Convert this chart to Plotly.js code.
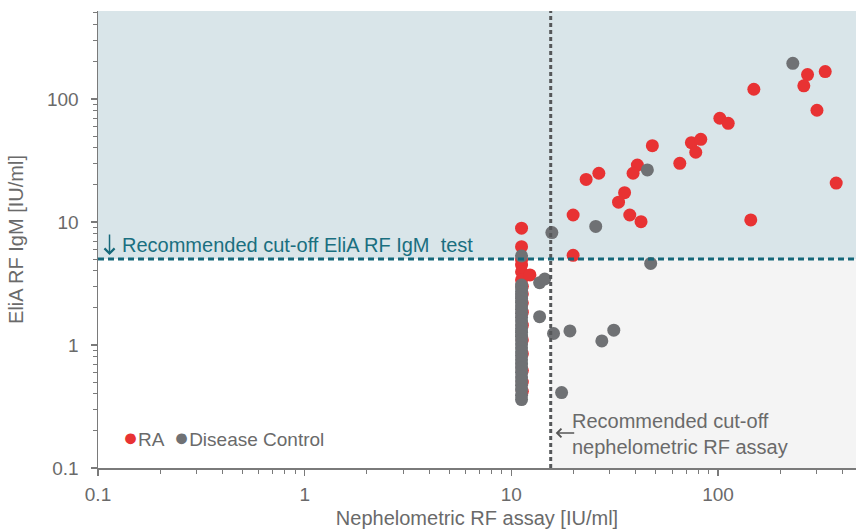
<!DOCTYPE html>
<html>
<head>
<meta charset="utf-8">
<script src="https://cdn.plot.ly/plotly-3.0.1.min.js"></script>
<style>html,body{margin:0;padding:0;background:#fff;}#chart{width:856px;height:529px;}</style>
</head>
<body>
<div id="chart"></div>
<script>
// ---- data (IU/ml) ----
const raX = [271, 330, 260, 301, 373, 149, 144, 102, 112, 74.3, 82.5, 78, 65.3, 48.1, 40.7, 38.8, 35.3, 33, 37.4, 42.4, 26.5, 23, 19.9, 19.9,
             11.2, 11.2, 11.2, 11.2, 11.2, 11.2, 12.3,
             11.3, 11.3, 11.3, 11.3, 11.3, 11.3, 11.3, 11.3, 11.3, 11.3];
const raY = [158, 167, 128, 81, 20.7, 120, 10.4, 69.7, 63.4, 44.1, 47, 36.9, 30, 41.7, 29, 24.9, 17.3, 14.5, 11.4, 10.05, 24.9, 22.2, 11.4, 5.36,
             8.9, 6.3, 4.9, 4.47, 3.94, 3.38, 3.71,
             3.0, 2.6, 2.2, 1.85, 1.45, 1.1, 0.85, 0.62, 0.5, 0.42];
const dcX = [230, 45.5, 25.6, 15.7, 47.2, 13.7, 14.5, 13.7, 16.0, 19.2, 31.3, 27.4, 17.5, 11.2,
             11.2, 11.2, 11.2, 11.2, 11.2, 11.2, 11.2, 11.2, 11.2, 11.2, 11.2, 11.2, 11.2, 11.2, 11.2,
             11.2, 11.2, 11.2, 11.2, 11.2, 11.2, 11.2, 11.2, 11.2, 11.2, 11.2, 11.2, 11.2, 11.2, 11.2];
const dcY = [195, 26.5, 9.2, 8.2, 4.6, 3.21, 3.44, 1.70, 1.24, 1.30, 1.32, 1.08, 0.41, 5.3,
             3.07, 2.9, 2.72, 2.55, 2.4, 2.23, 2.08, 1.95, 1.81, 1.68, 1.57, 1.46, 1.36, 1.27, 1.18,
             1.1, 1.02, 0.95, 0.88, 0.82, 0.76, 0.7, 0.65, 0.6, 0.55, 0.51, 0.47, 0.43, 0.39, 0.36];
const cutoffElia = 5;        // IU/ml
const cutoffNeph = 15.5;     // IU/ml
const xTickVals = [0.1, 1, 10, 100];
const xTickText = ['0.1', '1', '10', '100'];
const yTickVals = [0.1, 1, 10, 100];
const yTickText = ['0.1', '1', '10', '100'];
const minorTickVals = [0.2, 0.3, 0.4, 0.5, 0.6, 0.7, 0.8, 0.9,
                       2, 3, 4, 5, 6, 7, 8, 9,
                       20, 30, 40, 50, 60, 70, 80, 90,
                       200, 300, 400, 500];
const xRange = [0.1, 465];
const yRange = [0.1, 519];

const red = '#e83233', grey = '#6f7174', teal = '#16687a', txt = '#6a6a6a';
const FONT = 'Liberation Sans, Arial, sans-serif';
const L = Math.log10;

const traces = [
  {x: raX, y: raY, type: 'scatter', mode: 'markers', name: 'RA', showlegend: false,
   marker: {color: red, size: 13, line: {width: 0}}},
  {x: dcX, y: dcY, type: 'scatter', mode: 'markers', name: 'Disease Control', showlegend: false,
   marker: {color: grey, size: 13, line: {width: 0}}}
];

const axisCommon = {
  type: 'log', showgrid: false, zeroline: false, showline: true, linecolor: '#7a7a7a', linewidth: 1.5,
  ticks: 'outside', ticklen: 6, tickwidth: 1.2, tickcolor: '#7a7a7a',
  tickfont: {family: FONT, size: 19, color: txt},
  minor: {ticks: 'outside', ticklen: 4, tickwidth: 1, tickcolor: '#7a7a7a', tickvals: minorTickVals, showgrid: false}
};

const layout = {
  width: 856, height: 529,
  margin: {l: 98, r: 0, t: 11, b: 61},
  paper_bgcolor: '#fff', plot_bgcolor: '#fff',
  font: {family: FONT, color: txt},
  showlegend: false,
  xaxis: Object.assign({}, axisCommon, {
    range: [L(xRange[0]), L(xRange[1])], tickvals: xTickVals, ticktext: xTickText, ticklabelstandoff: 3,
    title: {text: 'Nephelometric RF assay [IU/ml]', font: {family: FONT, size: 20, color: txt}, standoff: 8}
  }),
  yaxis: Object.assign({}, axisCommon, {
    range: [L(yRange[0]), L(yRange[1])], tickvals: yTickVals, ticktext: yTickText, ticklabelstandoff: 8,
    title: {text: 'EliA RF IgM [IU/ml]', font: {family: FONT, size: 20, color: txt}, standoff: 18}
  }),
  shapes: [
    {type: 'rect', layer: 'below', xref: 'paper', yref: 'y', x0: 0, x1: 1, y0: cutoffElia, y1: yRange[1],
     fillcolor: '#d9e5e9', line: {width: 0}},
    {type: 'rect', layer: 'below', xref: 'x', yref: 'y', x0: cutoffNeph, x1: xRange[1], y0: yRange[0], y1: cutoffElia,
     fillcolor: '#f4f4f4', line: {width: 0}},
    {type: 'line', layer: 'above', xref: 'x', yref: 'paper', x0: cutoffNeph, x1: cutoffNeph, y0: 0, y1: 1,
     line: {color: '#555759', width: 3, dash: '4px,3px'}},
    {type: 'line', layer: 'above', xref: 'paper', yref: 'y', x0: 0, x1: 1, y0: cutoffElia, y1: cutoffElia,
     line: {color: teal, width: 3, dash: '6px,4px'}}
  ],
  annotations: [
    {xref: 'paper', yref: 'y', x: 0.0285, y: L(cutoffElia), xanchor: 'left', yanchor: 'bottom', yshift: 1,
     text: 'Recommended cut-off EliA RF IgM  test', showarrow: false,
     font: {family: FONT, size: 20, color: '#1a6f80'}},
    {xref: 'paper', yref: 'y', x: 0.0152, y: L(cutoffElia), text: '', showarrow: true, ax: 0, ay: -26,
     arrowhead: 4, arrowsize: 1.3, arrowwidth: 1.5, arrowcolor: teal, standoff: 4},
    {xref: 'paper', yref: 'paper', x: 0.6224, y: 0.0744, xanchor: 'left', yanchor: 'middle', align: 'left',
     text: 'Recommended cut-off<br>nephelometric RF assay', showarrow: false,
     font: {family: FONT, size: 20, color: txt}},
    {xref: 'x', yref: 'paper', x: L(cutoffNeph), y: 0.0766, text: '', showarrow: true, ax: 25, ay: 0,
     arrowhead: 4, arrowsize: 1.3, arrowwidth: 1.3, arrowcolor: '#555', standoff: 5},
    {xref: 'paper', yref: 'paper', x: 0.031, y: 0.0678, xanchor: 'left', yanchor: 'middle', showarrow: false,
     text: '<span style="color:' + red + ';font-size:25px">●</span>RA  <span style="color:' + grey + ';font-size:25px">●</span>Disease Control',
     font: {family: FONT, size: 19, color: txt}}
  ]
};

Plotly.newPlot('chart', traces, layout, {displayModeBar: false, staticPlot: true});
</script>
</body>
</html>
